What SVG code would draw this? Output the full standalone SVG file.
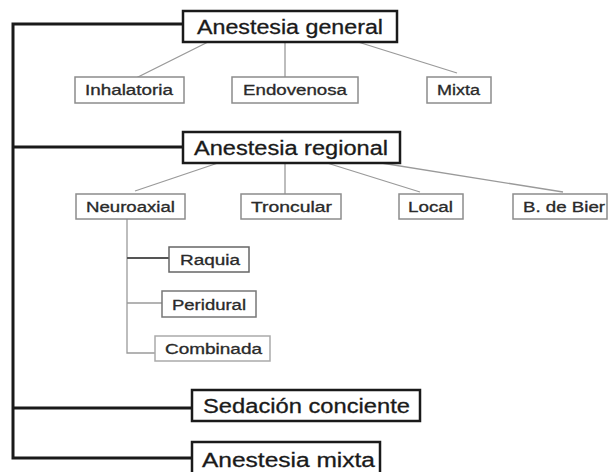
<svg xmlns="http://www.w3.org/2000/svg" width="610" height="472" viewBox="0 0 610 472">
<style>
.main{fill:#fff;stroke:#1a1a1a;stroke-width:2.5}
.sub{fill:#fff;stroke:#8c8c8c;stroke-width:1.5}
.big{font-family:"Liberation Sans",Arial,sans-serif;font-size:20px;fill:#1a1a1a;stroke:#1a1a1a;stroke-width:0.3}
.small{font-family:"Liberation Sans",Arial,sans-serif;font-size:14px;fill:#2a2a2a;stroke:#2a2a2a;stroke-width:0.3}
.trunk{fill:none;stroke:#1a1a1a;stroke-width:3}
.branch{fill:none;stroke:#9a9a9a;stroke-width:1.3}
</style>
<rect width="610" height="472" fill="#fff"/>
<g id="connectors">
<path class="trunk" d="M183,24 H13 V458 H192"/>
<path class="trunk" d="M13,147 H183"/>
<path class="trunk" d="M13,408 H192"/>
<path class="branch" d="M208,42 L128,82"/>
<path class="branch" d="M285,42 V77"/>
<path class="branch" d="M358,42 L457,73"/>
<path class="branch" d="M218,163 L135,191"/>
<path class="branch" d="M285,163 V194"/>
<path class="branch" d="M327,163 L420,192"/>
<path class="branch" d="M375,162 L563,192"/>
<path class="branch" d="M127,219 V353 H155"/>
<path fill="none" stroke="#555" stroke-width="2" d="M127,258 H169"/>
<path class="branch" d="M127,303 H162"/>
</g>
<g id="anestesia-general">
<rect class="main" x="183" y="11" width="214" height="31"/>
<text class="big" x="197" y="34" textLength="186" lengthAdjust="spacingAndGlyphs">Anestesia general</text>
</g>
<g id="inhalatoria">
<rect class="sub" x="75" y="77" width="109" height="26"/>
<text class="small" x="85" y="95" textLength="88" lengthAdjust="spacingAndGlyphs">Inhalatoria</text>
</g>
<g id="endovenosa">
<rect class="sub" x="232" y="77" width="126" height="26"/>
<text class="small" x="243" y="95" textLength="104" lengthAdjust="spacingAndGlyphs">Endovenosa</text>
</g>
<g id="mixta">
<rect class="sub" x="427" y="77" width="64" height="26"/>
<text class="small" x="437" y="95" textLength="43" lengthAdjust="spacingAndGlyphs">Mixta</text>
</g>
<g id="anestesia-regional">
<rect class="main" x="183" y="132" width="217" height="31"/>
<text class="big" x="194" y="155" textLength="194" lengthAdjust="spacingAndGlyphs">Anestesia regional</text>
</g>
<g id="neuroaxial">
<rect class="sub" x="76" y="194" width="109" height="25"/>
<text class="small" x="86" y="212" textLength="89" lengthAdjust="spacingAndGlyphs">Neuroaxial</text>
</g>
<g id="troncular">
<rect class="sub" x="241" y="194" width="100" height="25"/>
<text class="small" x="251" y="212" textLength="81" lengthAdjust="spacingAndGlyphs">Troncular</text>
</g>
<g id="local">
<rect class="sub" x="399" y="194" width="64" height="25"/>
<text class="small" x="408" y="212" textLength="45" lengthAdjust="spacingAndGlyphs">Local</text>
</g>
<g id="b-de-bier">
<rect class="sub" x="513" y="194" width="94" height="25"/>
<text class="small" x="523" y="212" textLength="82" lengthAdjust="spacingAndGlyphs">B. de Bier</text>
</g>
<g id="raquia">
<rect class="sub" x="169" y="247" width="80" height="25" style="stroke:#666"/>
<text class="small" x="180" y="265" textLength="60" lengthAdjust="spacingAndGlyphs">Raquia</text>
</g>
<g id="peridural">
<rect class="sub" x="162" y="291" width="94" height="26" style="stroke:#777"/>
<text class="small" x="172" y="310" textLength="74" lengthAdjust="spacingAndGlyphs">Peridural</text>
</g>
<g id="combinada">
<rect class="sub" x="155" y="336" width="115" height="25" style="stroke:#aaa"/>
<text class="small" x="165" y="354" textLength="97" lengthAdjust="spacingAndGlyphs">Combinada</text>
</g>
<g id="sedacion-conciente">
<rect class="main" x="192" y="390" width="228" height="31"/>
<text class="big" x="203" y="413" textLength="207" lengthAdjust="spacingAndGlyphs">Sedación conciente</text>
</g>
<g id="anestesia-mixta">
<rect class="main" x="192" y="442" width="188" height="32"/>
<text class="big" x="202" y="467" textLength="173" lengthAdjust="spacingAndGlyphs">Anestesia mixta</text>
</g>
</svg>
